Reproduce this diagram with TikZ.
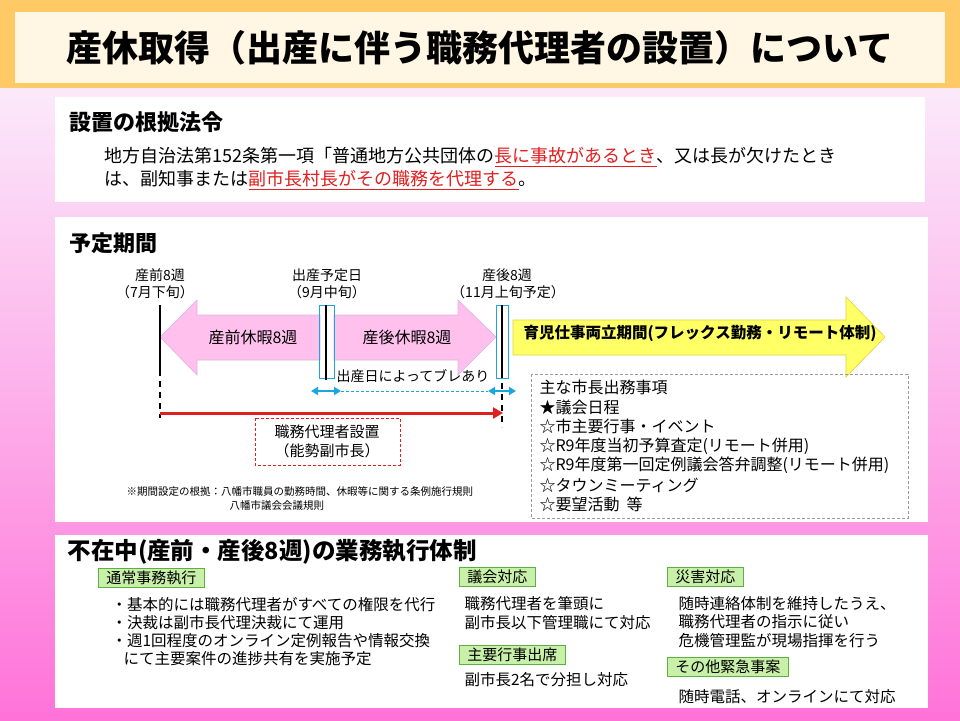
\documentclass[tikz,border=0pt]{standalone}
\usepackage{fontspec}
\setmainfont{Noto Sans CJK JP}
\usetikzlibrary{arrows.meta}
\definecolor{band}{HTML}{FFC966}
\definecolor{cream}{HTML}{FFF6E3}
\definecolor{pinkarrow}{HTML}{FFC0EE}
\definecolor{pinkedge}{HTML}{C080D0}
\definecolor{yel}{HTML}{FFFF66}
\definecolor{yeledge}{HTML}{E0D040}
\definecolor{cyanb}{HTML}{1CA6E0}
\definecolor{redl}{HTML}{E02020}
\definecolor{gfill}{HTML}{C8F0A8}
\definecolor{gedge}{HTML}{5CB040}
\begin{document}
\begin{tikzpicture}[x=1pt,y=-1pt,
  sec/.style={fill=white,draw=none},
  head/.style={anchor=west,font=\bfseries\fontsize{22}{24}\selectfont},
  lab/.style={font=\fontsize{14}{16}\selectfont},
  body/.style={anchor=west,font=\fontsize{15.5}{18}\selectfont},
  gbox/.style={fill=gfill,draw=gedge,line width=0.8pt,anchor=north west,inner xsep=8pt,inner ysep=2.5pt,font=\fontsize{15}{17}\selectfont},
  vline/.style={line width=1.6pt},
  bluebox/.style={draw=cyanb,line width=0.8pt,fill=none}]
\shade[top color=white!95!blue!40,bottom color=magenta!40!pink] (0,0) rectangle (960,720);
\useasboundingbox (0,0) rectangle (960,720);
% title
\fill[band] (0,0) rectangle (960,88);
\fill[cream] (15,12) rectangle (945,83);
\node[font=\bfseries\fontsize{36}{38}\selectfont] (title) at (480,48) {産休取得（出産に伴う職務代理者の設置）について};
% section 1
\fill[sec] (55,97) rectangle (925,202);
\node[head] (h1) at (66,122) {設置の根拠法令};
\node[anchor=west,font=\fontsize{18}{21}\selectfont] (l1) at (101,157) {地方自治法第152条第一項「普通地方公共団体の\textcolor{redl}{\underline{長に事故があるとき}}、又は長が欠けたとき};
\node[anchor=west,font=\fontsize{18}{21}\selectfont] (l2) at (101,180) {は、副知事または\textcolor{redl}{\underline{副市長村長がその職務を代理する}}。};
% section 2
\fill[sec] (55,217) rectangle (928,522);
\node[head] (h2) at (66,243) {予定期間};
\node[lab] (t1a) at (160,275) {産前8週};
\node[lab] (t1b) at (155,292) {（7月下旬）};
\node[lab] (t2a) at (327,275) {出産予定日};
\node[lab] (t2b) at (327,292) {（9月中旬）};
\node[lab] (t3a) at (507,275) {産後8週};
\node[lab] (t3b) at (508,292) {（11月上旬予定）};
% pink arrows
\draw[fill=pinkarrow,draw=pinkedge!60,line width=0.6pt] (160,337) -- (197,300) -- (197,315) -- (320,315) -- (320,360) -- (197,360) -- (197,375) -- cycle;
\draw[fill=pinkarrow,draw=pinkedge!60,line width=0.6pt] (496,337) -- (458,300) -- (458,315) -- (334,315) -- (334,360) -- (458,360) -- (458,375) -- cycle;
\node[font=\fontsize{16}{18}\selectfont] (pa) at (253,337) {産前休暇8週};
\node[font=\fontsize{16}{18}\selectfont] (pb) at (407,337) {産後休暇8週};
% yellow arrow
\draw[fill=yel,draw=yeledge,line width=0.6pt] (513,320) -- (846,320) -- (846,297) -- (885,337) -- (846,377) -- (846,355) -- (513,355) -- cycle;
\node[font=\bfseries\fontsize{15.5}{17}\selectfont] (ya) at (700,333) {育児仕事両立期間(フレックス勤務・リモート体制)};
% vertical lines
\coordinate (v1t) at (160,305); \coordinate (v1m) at (160,370); \coordinate (v1b) at (160,418);
\draw[vline] (v1t) -- (v1m); \draw[vline,dash pattern=on 6pt off 5pt] (v1m) -- (v1b);
\draw[bluebox] (319,305) rectangle (334,378);
\coordinate (v2t) at (326,305); \coordinate (v2b) at (326,380);
\draw[vline] (v2t) -- (v2b);
\draw[bluebox] (496,305) rectangle (508,378);
\coordinate (v3t) at (502,305); \coordinate (v3m) at (502,372); \coordinate (v3b) at (502,427);
\draw[vline] (v3t) -- (v3m); \draw[vline,dash pattern=on 6pt off 5pt] (v3m) -- (v3b);
% blue arrows
\coordinate (b1) at (311,391); \coordinate (b2) at (341,391);
\coordinate (b3) at (488,391); \coordinate (b4) at (516,391);
\draw[cyanb,line width=2.5pt,{Triangle[width=8pt,length=7pt]}-{Triangle[width=8pt,length=7pt]}] (b1) -- (b2);
\draw[cyanb,line width=2.5pt,{Triangle[width=8pt,length=7pt]}-{Triangle[width=8pt,length=7pt]}] (b3) -- (b4);
\draw[cyanb,line width=0.8pt,dash pattern=on 3pt off 2pt] (b2) -- (b3);
\node[lab] (bure) at (413,376) {出産日によってブレあり};
% red arrow
\coordinate (r1) at (160,413); \coordinate (r2) at (503,413);
\draw[redl,line width=3pt,-{Triangle[width=11pt,length=10pt]}] (r1) -- (r2);
\draw[redl,dash pattern=on 3pt off 2pt,line width=0.6pt] (255,418) rectangle (400,465);
\node[font=\fontsize{15}{19}\selectfont,align=center] (dairi) at (327,441) {職務代理者設置\\（能勢副市長）};
\node[anchor=west,font=\fontsize{10.5}{12}\selectfont] (n1) at (123,492) {※期間設定の根拠：八幡市職員の勤務時間、休暇等に関する条例施行規則};
\node[anchor=west,font=\fontsize{10.5}{12}\selectfont] (n2) at (226,506) {八幡市議会会議規則};
% gray dashed box
\draw[black!40,dash pattern=on 3pt off 2pt,line width=0.6pt] (531,374) rectangle (908,518);
\foreach \t [count=\i] in {主な市長出務事項,★議会日程,☆市主要行事・イベント,☆R9年度当初予算査定(リモート併用),☆R9年度第一回定例議会答弁調整(リモート併用),☆タウンミーティング,☆要望活動\ \ 等}
  \node[body,font=\fontsize{16}{18}\selectfont] (m\i) at (536,368+19.5*\i) {\t};
% section 3
\fill[sec] (55,535) rectangle (928,708);
\node[head,font=\bfseries\fontsize{23.5}{25}\selectfont] (h3) at (64,552) {不在中(産前・産後8週)の業務執行体制};
\node[gbox] (g1) at (98,568) {通常事務執行};
\node[body] (g1a) at (108,605) {・基本的には職務代理者がすべての権限を代行};
\node[body] (g1b) at (108,623) {・決裁は副市長代理決裁にて運用};
\node[body] (g1c) at (108,641) {・週1回程度のオンライン定例報告や情報交換};
\node[body] (g1d) at (120,659) {にて主要案件の進捗共有を実施予定};
\node[gbox] (g2) at (459,567) {議会対応};
\node[body] (g2a) at (461,604) {職務代理者を筆頭に};
\node[body] (g2b) at (461,623) {副市長以下管理職にて対応};
\node[gbox] (g3) at (459,645) {主要行事出席};
\node[body] (g3a) at (461,680) {副市長2名で分担し対応};
\node[gbox] (g4) at (667,567) {災害対応};
\node[body] (g4a) at (675,604) {随時連絡体制を維持したうえ、};
\node[body] (g4b) at (675,622) {職務代理者の指示に従い};
\node[body] (g4c) at (675,641) {危機管理監が現場指揮を行う};
\node[gbox] (g5) at (667,657) {その他緊急事案};
\node[body] (g5a) at (675,697) {随時電話、オンラインにて対応};
\end{tikzpicture}
\end{document}
